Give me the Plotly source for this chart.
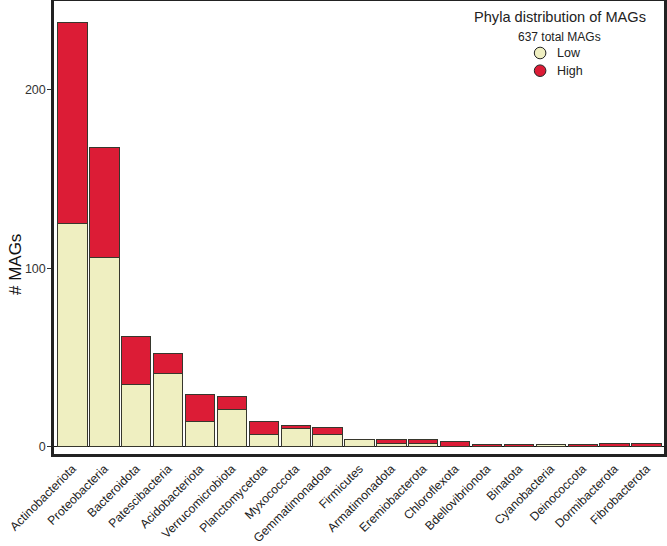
import plotly.graph_objects as go

phyla = ["Actinobacteriota", "Proteobacteria", "Bacteroidota", "Patescibacteria",
         "Acidobacteriota", "Verrucomicrobiota", "Planctomycetota", "Myxococcota",
         "Gemmatimonadota", "Firmicutes", "Armatimonadota", "Eremiobacterota",
         "Chloroflexota", "Bdellovibrionota", "Binatota", "Cyanobacteria",
         "Deinococcota", "Dormibacterota", "Fibrobacterota"]
low_counts = [125, 106, 35, 41, 14, 21, 7, 10, 7, 4, 2, 2, 0, 0, 0, 1, 0, 0, 0]
high_counts = [113, 62, 27, 11, 15, 7, 7, 2, 4, 0, 2, 2, 3, 1, 1, 0, 1, 2, 2]
y_ticks = [0, 100, 200]
y_title = "# MAGs"
legend_title = "Phyla distribution of MAGs"
legend_sub = f"{sum(low_counts) + sum(high_counts)} total MAGs"
series_names = ["Low", "High"]

LOW_COLOR = "#EFEFC1"
HIGH_COLOR = "#DC1C36"
EDGE = "rgb(55,55,45)"
FONT = "Liberation Sans, Arial, sans-serif"

fig = go.Figure()
fig.add_trace(go.Bar(x=phyla, y=low_counts, name="Low", marker_color=LOW_COLOR,
                     marker_line_color=EDGE, marker_line_width=1, showlegend=False))
fig.add_trace(go.Bar(x=phyla, y=high_counts, name="High", marker_color=HIGH_COLOR,
                     marker_line_color=EDGE, marker_line_width=1, showlegend=False))

L, R, T, B = 54, 2.5, 1, 92
W, H = 667, 546
pw, ph = W - L - R, H - T - B


def px(xp):
    return (xp - L) / pw


def py(yp):
    return (H - B - yp) / ph


fig.update_layout(
    width=W, height=H,
    barmode="stack", bargap=0.08,
    plot_bgcolor="white", paper_bgcolor="white",
    margin=dict(l=L, r=R, t=T, b=B, autoexpand=False),
    font=dict(family=FONT, color="#222"),
    xaxis=dict(range=[-0.58, 18.55], tickangle=-45, tickfont=dict(size=12.2, color="#222"),
               showline=True, mirror=True, linecolor="#222", linewidth=2.5,
               ticks="", showgrid=False, zeroline=False),
    yaxis=dict(range=[-4.1, 249.9], tickvals=y_ticks, tickfont=dict(size=12.5, color="#333"),
               showline=True, mirror=True, linecolor="#222", linewidth=2.5,
               ticks="outside", ticklen=4, tickcolor="#333", tickwidth=1,
               ticklabelstandoff=-1,
               showgrid=False, zeroline=True, zerolinecolor="#111", zerolinewidth=1.2),
)

anns = [
    dict(text=legend_title, x=px(560), y=py(17.5), font=dict(size=14.6, color="#222")),
    dict(text=legend_sub, x=px(559.5), y=py(37), font=dict(size=12, color="#222")),
    dict(text=y_title, x=px(15), y=py(265), textangle=-90, font=dict(size=17, color="#111")),
]
for name, yy in zip(series_names, [53, 70.7]):
    anns.append(dict(text=name, x=px(555), y=py(yy), xanchor="left",
                     font=dict(size=12.5, color="#222")))
for a in anns:
    a.update(xref="paper", yref="paper", showarrow=False, yanchor=a.get("yanchor", "middle"),
             xanchor=a.get("xanchor", "center"))
fig.update_layout(annotations=anns)

shapes = []
for col, yy in zip([LOW_COLOR, HIGH_COLOR], [53, 70.7]):
    shapes.append(dict(type="circle", xref="paper", yref="paper",
                       xsizemode="pixel", ysizemode="pixel",
                       xanchor=px(540.5), yanchor=py(yy),
                       x0=-5.8, x1=5.8, y0=-5.8, y1=5.8,
                       fillcolor=col, line=dict(color="#222", width=1)))
fig.update_layout(shapes=shapes)

fig.write_html("out.html", config={"displayModeBar": False},
               post_script="document.body.style.margin='0';document.body.style.overflow='hidden';")
